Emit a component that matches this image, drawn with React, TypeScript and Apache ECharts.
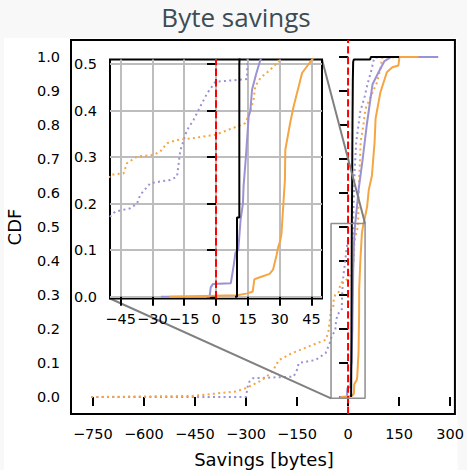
import React, { useEffect, useRef } from 'react';
import * as echarts from 'echarts';

// ---- tick labels / ranges ----
const mainXTicks = [-750, -600, -450, -300, -150, 0, 150, 300];
const mainYTicks = [0, 0.1, 0.2, 0.3, 0.4, 0.5, 0.6, 0.7, 0.8, 0.9, 1.0];
const insetXTicks = [-45, -30, -15, 0, 15, 30, 45];
const insetYTicks = [0, 0.1, 0.2, 0.3, 0.4, 0.5];
const mainXRange = [-814, 314];
const mainYRange = [-0.05, 1.05];
const insetXRange = [-50, 50];
const insetYRange = [-0.004, 0.51];

// ---- series (savings in bytes, CDF) ----
const purpleDotted = [
  [-755, 0], [-300, 0], [-295, 0.03], [-290, 0.045], [-280, 0.055], [-160, 0.06], [-150, 0.08],
  [-145, 0.1], [-95, 0.109], [-66, 0.129], [-52, 0.163], [-47.5, 0.183], [-40.4, 0.19],
  [-37.3, 0.2], [-35.7, 0.219], [-31, 0.244], [-21.6, 0.251], [-18.4, 0.258], [-16.8, 0.315],
  [-13.7, 0.358], [-10.6, 0.38], [-7.4, 0.409], [-4.2, 0.437], [-0.3, 0.462], [14.6, 0.468],
  [14.8, 0.51], [16.7, 0.58], [19, 0.66], [24, 0.75], [36, 0.84], [48, 0.88], [57, 0.92],
  [67, 0.955], [77, 0.998], [120, 1.0],
];
const orangeDotted = [
  [-755, 0], [-460, 0.003], [-330, 0.016], [-300, 0.026], [-252, 0.05], [-222, 0.075],
  [-203, 0.109], [-164, 0.129], [-105, 0.153], [-66, 0.168], [-58, 0.19], [-53, 0.23],
  [-49.8, 0.262], [-43.6, 0.265], [-42, 0.287], [-37.3, 0.301], [-29.4, 0.305], [-26.3, 0.312],
  [-23.1, 0.33], [-18.4, 0.337], [-10.6, 0.341], [-0.3, 0.348], [9.9, 0.366], [13.8, 0.373],
  [16.2, 0.4], [17.7, 0.423], [18.5, 0.452], [20.9, 0.47], [25.6, 0.488], [29.5, 0.506],
  [31, 0.6], [34, 0.67], [37, 0.75], [45, 0.8], [51, 0.847], [65, 0.88], [85, 0.925],
  [95, 0.965], [100, 0.998], [150, 1.0],
];
const purpleSolid = [
  [-26, 0], [-3, 0], [-2.5, 0.02], [-1.5, 0.027], [7, 0.029], [8.4, 0.069], [9.2, 0.095],
  [10.5, 0.1], [11.6, 0.165], [12.7, 0.2], [13, 0.237], [14.1, 0.3], [15.4, 0.387], [16.2, 0.4],
  [17, 0.445], [19, 0.48], [21, 0.51], [23.4, 0.532], [31, 0.61], [43, 0.7], [55, 0.8],
  [62, 0.85], [72, 0.92], [87, 0.95], [107, 0.988], [127, 1.0], [265, 1.0],
];
const orangeSolid = [
  [-22, 0], [10, 0.003], [14.9, 0.007], [17.3, 0.011], [18.1, 0.037], [19.7, 0.04],
  [25.3, 0.049], [26.9, 0.058], [28.5, 0.088], [29.3, 0.106], [30.3, 0.12], [30.9, 0.136],
  [31.9, 0.208], [32.5, 0.25], [32.7, 0.316], [35, 0.374], [36.6, 0.409], [39, 0.452],
  [40.6, 0.481], [45.3, 0.51], [50, 0.53], [56, 0.56], [61, 0.61], [70, 0.65], [78, 0.75],
  [81, 0.82], [95, 0.896], [114, 0.955], [130, 0.97], [148, 0.975], [151, 1.0], [207, 1.0],
];
const blackSolid = [
  [9, 0], [9.9, 0], [9.9, 0.17], [11, 0.17], [11, 0.5], [12, 0.62], [13, 0.8], [14, 0.93],
  [15, 0.985], [17, 0.993], [65, 0.993], [67, 1.0], [150, 1.0],
];
const zeroLine = [0];

const PURPLE = '#9b92d3';
const ORANGE = '#f5a543';

const minusFmt = (v: number) => (v < 0 ? '\u2212' + Math.abs(v) : String(v));
const decFmt = (v: number) => v.toFixed(1);

export default function App() {
  const ref = useRef<HTMLDivElement>(null);
  useEffect(() => {
    const el = ref.current!;
    const chart = echarts.init(el, null, { renderer: 'svg', width: 467, height: 470 });

    const labelStyle = { fontFamily: 'DejaVu Sans', fontSize: 14.5, color: '#000' };
    const tickStyle = { show: true, length: 9, lineStyle: { color: '#000', width: 2 } };

    const seriesFor = (gi: number) => {
      const z = gi === 0 ? 2 : 11;
      const ln = (data: number[][], color: string, dotted: boolean) => ({
        type: 'line', xAxisIndex: gi, yAxisIndex: gi, data, symbol: 'none', silent: true,
        clip: true, z,
        lineStyle: { color, width: 2, type: dotted ? [2, 3.3] : 'solid', cap: 'butt' },
      });
      const yr = gi === 0 ? mainYRange : insetYRange;
      return [
        ln(purpleDotted, PURPLE, true),
        ln(orangeDotted, ORANGE, true),
        ln(purpleSolid, PURPLE, false),
        ln(orangeSolid, ORANGE, false),
        ln(blackSolid, '#000', false),
        {
          type: 'line', xAxisIndex: gi, yAxisIndex: gi, symbol: 'none', silent: true, z: z + 0.5,
          data: [[zeroLine[0], yr[0]], [zeroLine[0], yr[1]]],
          lineStyle: { color: '#ff0000', width: 2, type: [7.4, 3.2], cap: 'butt' },
        },
      ];
    };

    const option: any = {
      animation: false,
      backgroundColor: '#f8f8f8',
      grid: [
        { left: 71, top: 40, width: 385, height: 374, show: true, backgroundColor: 'transparent', borderColor: '#000', borderWidth: 2, z: 0 },
        { left: 110, top: 59.5, width: 212, height: 239, show: true, backgroundColor: '#fff', borderColor: '#000', borderWidth: 2, z: 10 },
      ],
      xAxis: [
        {
          type: 'value', gridIndex: 0, min: mainXRange[0], max: mainXRange[1],
          axisLine: { show: false }, splitLine: { show: false },
          axisTick: { ...tickStyle, customValues: mainXTicks },
          axisLabel: { ...labelStyle, customValues: mainXTicks, formatter: minusFmt, margin: 12 },
        },
        {
          type: 'value', gridIndex: 1, min: insetXRange[0], max: insetXRange[1], z: 10,
          axisLine: { show: false },
          splitLine: { show: true, lineStyle: { color: '#bdbdbd', width: 2 } },
          axisTick: { ...tickStyle, customValues: insetXTicks },
          axisLabel: { ...labelStyle, customValues: insetXTicks, formatter: minusFmt, margin: 13 },
        },
      ],
      yAxis: [
        {
          type: 'value', gridIndex: 0, min: mainYRange[0], max: mainYRange[1],
          axisLine: { show: false }, splitLine: { show: false },
          axisTick: { ...tickStyle, customValues: mainYTicks },
          axisLabel: { ...labelStyle, customValues: mainYTicks, formatter: decFmt, margin: 11 },
        },
        {
          type: 'value', gridIndex: 1, min: insetYRange[0], max: insetYRange[1], z: 10,
          axisLine: { show: false },
          splitLine: { show: true, lineStyle: { color: '#bdbdbd', width: 2 } },
          axisTick: { ...tickStyle, customValues: insetYTicks },
          axisLabel: { ...labelStyle, customValues: insetYTicks, formatter: decFmt, margin: 13 },
        },
      ],
      series: [
        ...seriesFor(0),
        {
          type: 'line', xAxisIndex: 0, yAxisIndex: 0, symbol: 'none', silent: true, z: 3,
          data: [
            [insetXRange[0], insetYRange[0]], [insetXRange[1], insetYRange[0]],
            [insetXRange[1], insetYRange[1]], [insetXRange[0], insetYRange[1]],
            [insetXRange[0], insetYRange[0]],
          ],
          lineStyle: { color: '#8e8e8e', width: 1.5 },
        },
        ...seriesFor(1),
      ],
    };
    chart.setOption(option);

    const insetBL = chart.convertToPixel({ xAxisIndex: 1, yAxisIndex: 1 } as any, [insetXRange[0], insetYRange[0]]) as number[];
    const insetTR = chart.convertToPixel({ xAxisIndex: 1, yAxisIndex: 1 } as any, [insetXRange[1], insetYRange[1]]) as number[];
    const rectBL = chart.convertToPixel({ xAxisIndex: 0, yAxisIndex: 0 } as any, [insetXRange[0], insetYRange[0]]) as number[];
    const rectTR = chart.convertToPixel({ xAxisIndex: 0, yAxisIndex: 0 } as any, [insetXRange[1], insetYRange[1]]) as number[];

    chart.setOption({
      graphic: [
        { type: 'rect', z: -10, silent: true, shape: { x: 4, y: 38, width: 453.5, height: 432 }, style: { fill: '#ffffff' } },
        {
          type: 'text', silent: true, x: 236, y: 17,
          style: { text: 'Byte savings', fontFamily: 'Open Sans', fontSize: 26, fill: '#3d4c55', align: 'center', verticalAlign: 'middle' },
        },
        {
          type: 'text', silent: true, x: 14, y: 227, rotation: Math.PI / 2,
          style: { text: 'CDF', fontFamily: 'DejaVu Sans', fontSize: 18, fill: '#000', align: 'center', verticalAlign: 'middle' },
        },
        {
          type: 'text', silent: true, x: 264, y: 459,
          style: { text: 'Savings [bytes]', fontFamily: 'DejaVu Sans', fontSize: 18, fill: '#000', align: 'center', verticalAlign: 'middle' },
        },
        {
          type: 'line', z: 4, silent: true,
          shape: { x1: insetBL[0], y1: insetBL[1], x2: rectBL[0], y2: rectBL[1] },
          style: { stroke: '#808080', lineWidth: 2 },
        },
        {
          type: 'line', z: 4, silent: true,
          shape: { x1: insetTR[0], y1: insetTR[1], x2: rectTR[0], y2: rectTR[1] },
          style: { stroke: '#808080', lineWidth: 2 },
        },
      ],
    });

    return () => chart.dispose();
  }, []);
  return <div ref={ref} style={{ position: 'fixed', left: 0, top: 0, width: 467, height: 470 }} />;
}
